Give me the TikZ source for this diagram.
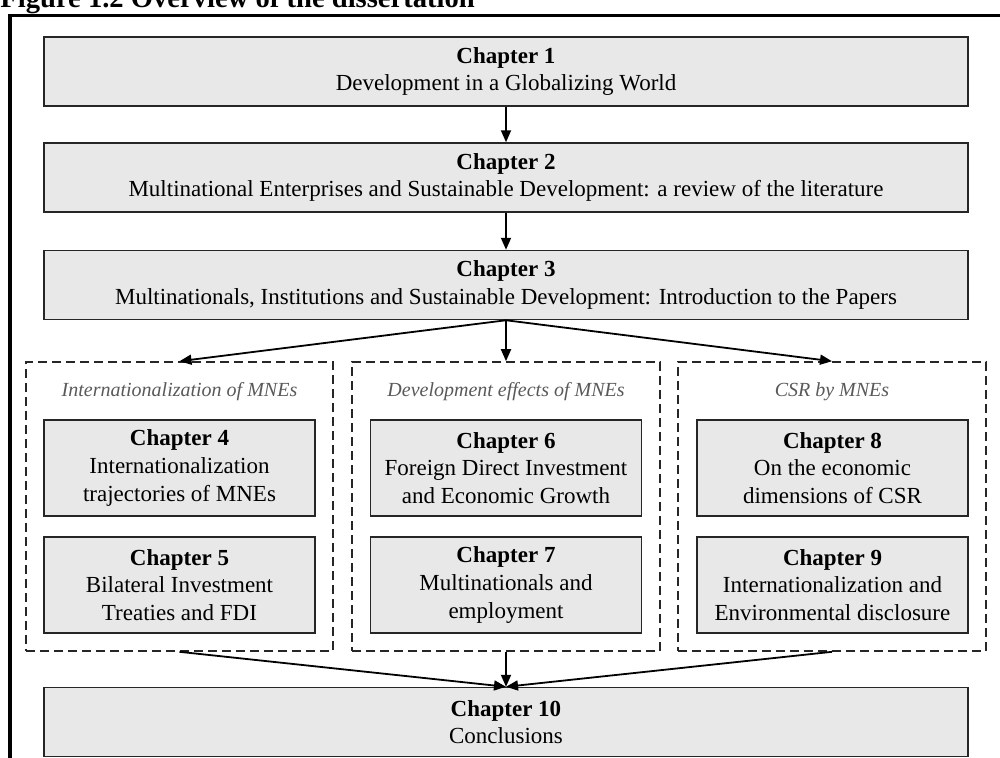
\documentclass[tikz,border=0pt]{standalone}
\usepackage{fontspec}
\setmainfont{Liberation Serif}
\usetikzlibrary{arrows.meta}
\begin{document}
\begin{tikzpicture}[x=0.5pt,y=-0.5pt,
  txt/.style={font=\fontsize{11.5}{13.8}\selectfont},
  chap/.style={txt, draw=black!85, fill=black!9, line width=0.75pt, align=center, inner sep=0pt},
  wide/.style={chap, minimum width=462pt, minimum height=34.5pt},
  small/.style={chap, minimum width=135.5pt, minimum height=48pt},
  grp/.style={draw=black!85, dash pattern=on 4.5pt off 2.5pt, line width=0.8pt, inner sep=0pt, minimum height=144.5pt},
  lab/.style={font=\fontsize{10}{12}\selectfont\itshape, text=black!65},
  arr/.style={-{Triangle[length=6pt,width=5pt]}, line width=0.9pt},
  frame/.style={line width=1.6pt}]
\useasboundingbox (0,0) rectangle (1000,757);
\node[anchor=base west, inner sep=0pt, font=\fontsize{14.3}{15}\selectfont\bfseries] (title) at (0,7) {Figure 1.2 Overview of the dissertation};
\coordinate (fa) at (10,790);
\coordinate (fb) at (10,15.5);
\coordinate (fc) at (1030,15.5);
\draw[frame] (fa) -- (fb) -- (fc);

\node[wide] (c1) at (506,71.5) {\textbf{Chapter 1}\\Development in a Globalizing World};
\node[wide] (c2) at (506,177.5) {\textbf{Chapter 2}\\Multinational Enterprises and Sustainable Development: a review of the literature};
\node[wide] (c3) at (506,285) {\textbf{Chapter 3}\\Multinationals, Institutions and Sustainable Development: Introduction to the Papers};

\node[grp, minimum width=153.5pt] (g1) at (179.5,506.5) {};
\node[grp, minimum width=154pt] (g2) at (506,506.5) {};
\node[grp, minimum width=154pt] (g3) at (832,506.5) {};

\node[lab] (l1) at (179.5,392) {Internationalization of MNEs};
\node[lab] (l2) at (506,392) {Development effects of MNEs};
\node[lab] (l3) at (832,392) {CSR by MNEs};

\node[small] (c4) at (179.5,468) {\textbf{Chapter 4}\\Internationalization\\trajectories of MNEs};
\node[small] (c5) at (179.5,585) {\textbf{Chapter 5}\\Bilateral Investment\\Treaties and FDI};
\node[small] (c6) at (506,468) {\textbf{Chapter 6}\\Foreign Direct Investment\\and Economic Growth};
\node[small] (c7) at (506,585) {\textbf{Chapter 7}\\Multinationals and\\employment};
\node[small] (c8) at (832.5,468) {\textbf{Chapter 8}\\On the economic\\dimensions of CSR};
\node[small] (c9) at (832.5,585) {\textbf{Chapter 9}\\Internationalization and\\Environmental disclosure};

\node[wide] (c10) at (506,722) {\textbf{Chapter 10}\\Conclusions};

\draw[arr] (c1.south) -- (c2.north);
\draw[arr] (c2.south) -- (c3.north);
\draw[arr] (c3.south) -- (g1.north);
\draw[arr] (c3.south) -- (g2.north);
\draw[arr] (c3.south) -- (g3.north);
\draw[arr] (g1.south) -- (c10.north);
\draw[arr] (g2.south) -- (c10.north);
\draw[arr] (g3.south) -- (c10.north);
\end{tikzpicture}
\end{document}
